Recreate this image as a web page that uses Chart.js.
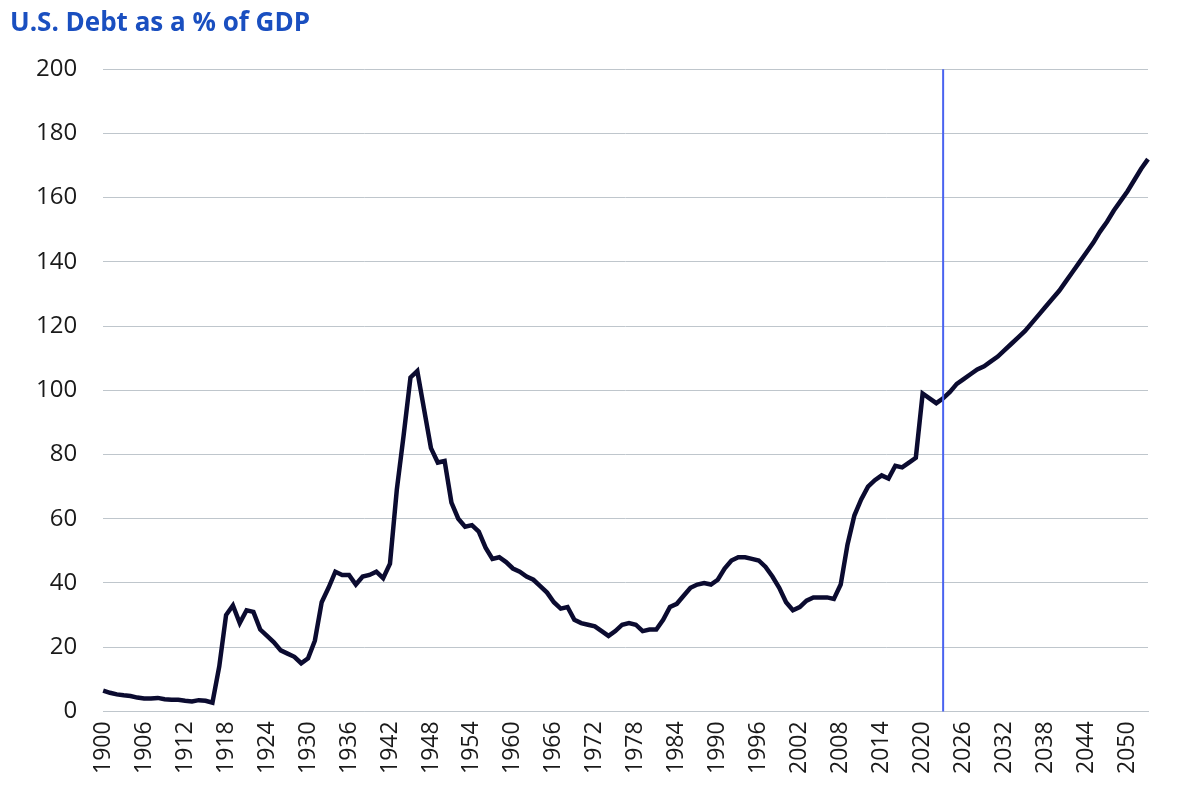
<!DOCTYPE html>
<html>
<head>
<meta charset="utf-8">
<script src="https://cdn.jsdelivr.net/npm/chart.js@4"></script>
<style>
  html, body { margin: 0; padding: 0; background: #fff; }
  #wrap { width: 1200px; height: 786px; }
</style>
</head>
<body>
<div id="wrap"><canvas id="debtChart" width="1200" height="786"></canvas></div>
<script>
(function () {
    // Debt held by public, % of GDP (history + projection)
    const debt = [
        6.5, 5.8, 5.3, 5.0, 4.8, 4.3, 4.0, 4.0, 4.2, 3.8,     // 1900s
        3.6, 3.6, 3.3, 3.1, 3.5, 3.3, 2.7, 14, 30, 33,        // 1910s
        27.5, 31.5, 31, 25.5, 23.5, 21.5, 19, 18, 17, 15,     // 1920s
        16.5, 22, 34, 38.5, 43.5, 42.5, 42.5, 39.5, 42, 42.5, // 1930s
        43.5, 41.5, 46, 69, 86, 104, 106, 94, 82, 77.5,       // 1940s
        78, 65, 60, 57.5, 58, 56, 51, 47.5, 48, 46.5,         // 1950s
        44.5, 43.5, 42, 41, 39, 37, 34, 32, 32.5, 28.5,       // 1960s
        27.5, 27, 26.5, 25, 23.5, 25, 27, 27.5, 27, 25,       // 1970s
        25.5, 25.5, 28.5, 32.5, 33.5, 36, 38.5, 39.5, 40, 39.5, // 1980s
        41, 44.5, 47, 48, 48, 47.5, 47, 45, 42, 38.5,         // 1990s
        34, 31.5, 32.5, 34.5, 35.5, 35.5, 35.5, 35, 39.5, 52, // 2000s
        61, 66, 70, 72, 73.5, 72.5, 76.5, 76, 77.5, 79,       // 2010s
        99, 97.5, 96, 97.5, 99.5, 102, 103.5, 105, 106.5, 107.5, // 2020s
        109, 110.5, 112.5, 114.5, 116.5, 118.5, 121, 123.5, 126, 128.5, // 2030s
        131, 134, 137, 140, 143, 146, 149.5, 152.5, 156, 159, // 2040s
        162, 165.5, 169, 172                                  // 2050s
    ];
    const labels = debt.map((_, i) => String(1900 + i));
    const markerYear = '2023';

    const markerLine = {
        id: 'markerLine',
        afterDatasetsDraw(chart) {
            const { ctx, chartArea, scales } = chart;
            const x = scales.x.getPixelForValue(labels.indexOf(markerYear));
            ctx.save();
            ctx.strokeStyle = '#4a63f0';
            ctx.lineWidth = 2;
            ctx.beginPath();
            ctx.moveTo(x, chartArea.top);
            ctx.lineTo(x, chartArea.bottom);
            ctx.stroke();
            ctx.restore();
        }
    };

    new Chart(document.getElementById('debtChart').getContext('2d'), {
        type: 'line',
        data: {
            labels: labels,
            datasets: [{
                data: debt,
                borderColor: '#0b0b30',
                borderWidth: 4.5,
                pointRadius: 0,
                tension: 0,
                fill: false
            }]
        },
        options: {
            responsive: false,
            animation: false,
            layout: { padding: { left: 10, right: 52, top: 0, bottom: 2 } },
            plugins: {
                legend: { display: false },
                tooltip: { enabled: false },
                title: {
                    display: true,
                    text: 'U.S. Debt as a % of GDP',
                    align: 'start',
                    color: '#1a4fc0',
                    font: { family: 'Open Sans', size: 26, weight: 'bold' },
                    padding: { top: 8, bottom: 30 }
                }
            },
            scales: {
                x: {
                    offset: false,
                    grid: { display: false, drawTicks: false },
                    border: { color: '#bfc6cc', width: 1 },
                    ticks: {
                        autoSkip: false,
                        maxRotation: 90,
                        minRotation: 90,
                        padding: 10,
                        color: '#1a1a1a',
                        font: { family: 'Open Sans', size: 23 },
                        callback: function (val, i) {
                            return i % 6 === 0 ? labels[i] : null;
                        }
                    }
                },
                y: {
                    min: 0,
                    max: 200,
                    grid: { color: '#bfc6cc', lineWidth: 1, drawTicks: false },
                    border: { display: false },
                    ticks: {
                        stepSize: 20,
                        padding: 26,
                        color: '#1a1a1a',
                        font: { family: 'Open Sans', size: 24 }
                    }
                }
            }
        },
        plugins: [markerLine]
    });
})();
</script>
</body>
</html>
